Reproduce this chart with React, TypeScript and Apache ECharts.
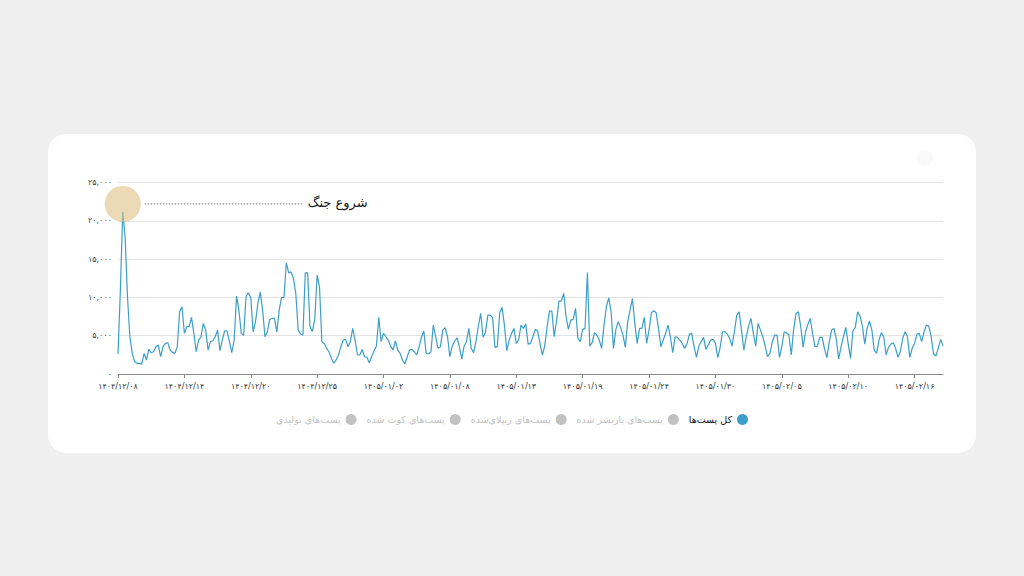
import React, { useEffect, useRef } from 'react';
import * as echarts from 'echarts';

// Date labels shown under every TICK_STEP-th sample on the time axis
const dateTicks = [
  '۱۴۰۴/۱۲/۰۸', '۱۴۰۴/۱۲/۱۴', '۱۴۰۴/۱۲/۲۰', '۱۴۰۴/۱۲/۲۵', '۱۴۰۵/۰۱/۰۲',
  '۱۴۰۵/۰۱/۰۸', '۱۴۰۵/۰۱/۱۳', '۱۴۰۵/۰۱/۱۹', '۱۴۰۵/۰۱/۲۴', '۱۴۰۵/۰۱/۳۰',
  '۱۴۰۵/۰۲/۰۵', '۱۴۰۵/۰۲/۱۰', '۱۴۰۵/۰۲/۱۶',
];
const TICK_STEP = 28;

// Total posts per sample
const totalPosts = [
  2610, 10960, 21185, 17900, 10090, 4870, 2700, 1610, 1390, 1390,
  1300, 2700, 1830, 3220, 2780, 2910, 3570, 3780, 2260, 3570,
  4000, 4090, 3130, 2830, 2700, 3570, 8130, 8790, 5310, 6180,
  6180, 7400, 5310, 2910, 4440, 4870, 6610, 5740, 3130, 4220,
  4350, 4870, 5740, 3050, 4440, 5650, 5650, 4220, 2780, 4440,
  10180, 8350, 5310, 5050, 10090, 10610, 10000, 5520, 6830, 9220,
  10700, 8350, 4870, 5520, 7130, 7260, 7260, 5480, 8350, 10000,
  10000, 14530, 13220, 13350, 12480, 10530, 5740, 5220, 5090, 13220,
  13220, 6180, 5570, 7130, 12920, 11400, 4220, 4000,
  3350, 2910, 2040, 1390, 1830, 2480, 3570, 4440, 4520, 3570,
  4220, 5960, 4440, 2480, 2480, 3220, 2260, 2180, 1480, 2260,
  3050, 3650, 7400, 4220, 5310, 4870, 4440, 3650, 3130, 4310,
  3130, 2700, 1830, 1300, 2260, 3130, 3220, 2910, 2480, 3570,
  4790, 5610, 2700, 2610, 2910, 6390, 4870, 3350, 3570, 5740,
  6050, 4870, 2260, 3650, 4310, 4740, 3570, 1960, 3650, 4220,
  5960, 3350, 2780, 4220, 6260, 7920, 4790, 5390, 7700, 7700,
  7400, 3480, 3570, 8000, 8700, 6390, 3050, 4440, 5310, 5960,
  4000, 4440, 6390, 5960, 6520,
  3910, 4000, 4870, 5830, 5650, 4000, 2480, 3650, 6180, 8220,
  8220, 4870, 6960, 9530, 9530, 10530, 7480, 5830, 7050, 7130,
  8570, 4650, 4220, 5830, 5960, 13270, 3650, 4090, 5390, 5090,
  4440, 3350, 6390, 8790, 9960, 8130, 3350, 5830, 6830, 6090,
  5090, 3480, 6830, 8350, 9870, 6610, 4000, 5960, 5960, 7400,
  4000, 5740, 8000, 8270, 8000, 5960, 3570, 4440, 5310, 6390,
  4870, 2780, 4870, 4790, 4440, 4000, 3350, 3910, 5180, 5310,
  3570, 2180, 3650, 4220, 4790, 3220, 3780, 4440, 4520, 4000,
  2130, 3480, 5520, 5520, 5220, 4650, 3650,
  5520, 7700, 8130, 5740, 3130, 4870, 6260, 7260, 5310, 3650,
  6610, 5740, 4870, 3650, 2260, 2700, 4220, 5090, 5090, 2180,
  3570, 5520, 5390, 5090, 2480, 5830, 7920, 8130, 6180, 3480,
  5520, 6480, 7260, 5220, 3570, 3650, 4790, 4790, 3350, 2130,
  4090, 5740, 5960, 4520, 1960, 3570, 4870, 6090, 4000, 2040,
  5650, 6090, 8130, 7570, 6260, 3910, 5960, 6920, 5740, 3130,
  2700, 4440, 5390, 4870, 2480, 3480, 3910, 4090, 3350, 2180,
  2910, 4650, 5520, 4870, 2180, 3350, 4000, 5220, 5310, 4220,
  5520, 6390, 6260, 4870, 2610, 2350, 3350, 4520, 3650,
];

// First name is the visible series; the rest start switched off in the legend
const seriesNames = [
  'کل پست‌ها',
  'پست‌های بازنشر شده',
  'پست‌های ریپلای‌شده',
  'پست‌های کوت شده',
  'پست‌های تولیدی',
];

const warStartLabel = 'شروع جنگ';

const FONT = "'DejaVu Sans', sans-serif";
const LINE_COLOR = '#3a9fc9';

const toPersianDigits = (s: string) => s.replace(/\d/g, (d) => '۰۱۲۳۴۵۶۷۸۹'[Number(d)]);

export default function App() {
  const ref = useRef<HTMLDivElement>(null);

  useEffect(() => {
    if (!ref.current) return;
    const chart = echarts.init(ref.current, null, { renderer: 'svg' });
    const categories = totalPosts.map((_, i) => String(i));
    const [mainName, ...hiddenNames] = seriesNames;

    chart.setOption({
      animation: false,
      grid: { left: 118, right: 81, top: 182.7, bottom: 202 },
      legend: {
        data: [...seriesNames].reverse(),
        left: 'center',
        top: 409,
        align: 'right',
        icon: 'circle',
        itemWidth: 11,
        itemHeight: 11,
        itemGap: 10,
        selected: Object.fromEntries(hiddenNames.map((n) => [n, false])),
        inactiveColor: '#c2c2c2',
        textStyle: { fontFamily: FONT, fontSize: 9.5, color: '#111' },
      },
      xAxis: {
        type: 'category',
        data: categories,
        boundaryGap: false,
        axisLine: { lineStyle: { color: '#8a8a8a', width: 1 } },
        axisTick: { interval: TICK_STEP - 1, length: 4, lineStyle: { color: '#8a8a8a' } },
        axisLabel: {
          interval: TICK_STEP - 1,
          formatter: (_v: string, i: number) => dateTicks[i / TICK_STEP] ?? '',
          fontFamily: FONT,
          fontSize: 8,
          color: '#333',
          margin: 8,
        },
      },
      yAxis: {
        type: 'value',
        min: 0,
        max: 25000,
        interval: 5000,
        axisLine: { show: false },
        axisTick: { show: false },
        axisLabel: {
          formatter: (v: number) => toPersianDigits(v.toLocaleString('en-US')),
          fontFamily: FONT,
          fontSize: 8,
          color: '#444',
          margin: 6,
        },
        splitLine: { lineStyle: { color: '#e3e3e3' } },
      },
      series: [
        {
          name: mainName,
          type: 'line',
          data: totalPosts,
          symbol: 'none',
          lineStyle: { width: 1.2, color: LINE_COLOR },
          itemStyle: { color: LINE_COLOR },
        },
        ...hiddenNames.map((n) => ({
          name: n,
          type: 'line',
          data: [] as number[],
          symbol: 'none',
          itemStyle: { color: '#c2c2c2' },
        })),
      ],
    });

    // War-start annotation anchored on the highest sample
    const peakValue = Math.max(...totalPosts);
    const peakIdx = totalPosts.indexOf(peakValue);
    const [px, py] = chart.convertToPixel({ xAxisIndex: 0, yAxisIndex: 0 }, [peakIdx, peakValue]) as number[];
    const cy = py - 8;
    chart.setOption({
      graphic: [
        {
          type: 'circle',
          shape: { cx: px, cy, r: 18 },
          style: { fill: 'rgba(222,195,135,0.62)' },
          z: 100,
        },
        {
          type: 'line',
          shape: { x1: px + 22, y1: cy, x2: px + 180, y2: cy },
          style: { stroke: '#777', lineWidth: 1, lineDash: [1.5, 1.5] },
          z: 100,
        },
        {
          type: 'text',
          x: px + 185,
          y: cy - 1,
          style: {
            text: warStartLabel,
            fill: '#1a1a1a',
            font: `13px ${FONT}`,
            align: 'left',
            verticalAlign: 'middle',
          },
          z: 100,
        },
        {
          type: 'circle',
          shape: { cx: 925, cy: 158, r: 8 },
          style: { fill: '#f9f9f9' },
        },
      ],
    });

    return () => chart.dispose();
  }, []);

  return (
    <div style={{ position: 'fixed', inset: 0, background: '#efefef' }}>
      <div
        style={{
          position: 'absolute',
          left: 48,
          top: 134,
          width: 928,
          height: 319,
          background: '#ffffff',
          borderRadius: 18,
        }}
      />
      <div ref={ref} style={{ position: 'absolute', left: 0, top: 0, width: 1024, height: 576 }} />
    </div>
  );
}
